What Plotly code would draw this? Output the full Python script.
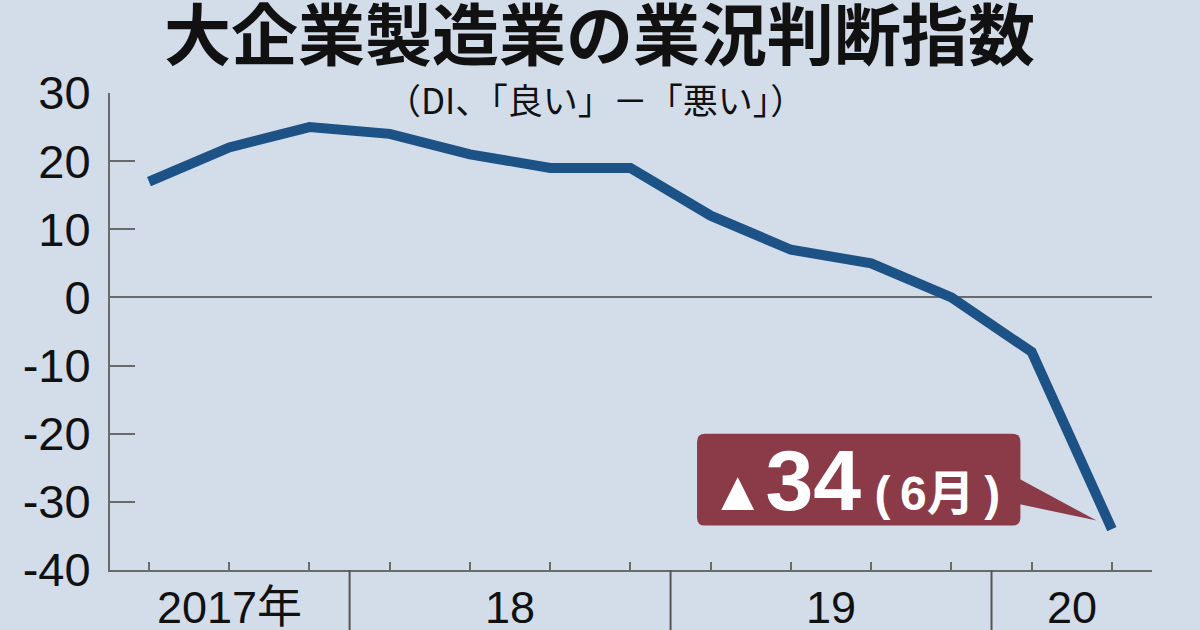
import plotly.graph_objects as go

# Data: quarterly DI, 2017 Jun .. 2020 Jun
quarters = ["2017-06", "2017-09", "2017-12", "2018-03", "2018-06", "2018-09", "2018-12",
            "2019-03", "2019-06", "2019-09", "2019-12", "2020-03", "2020-06"]
di_values = [17, 22, 25, 24, 21, 19, 19, 12, 7, 5, 0, -8, -34]
year_labels = ["2017年", "18", "19", "20"]
year_label_pos = [1, 4.5, 8.5, 11.5]
year_separators = [2.5, 6.5, 10.5]
y_ticks = [30, 20, 10, 0, -10, -20, -30, -40]

BG = "#d3ddea"
LINE = "#1d5287"
AXIS = "#6a6a6a"
CALLOUT = "#8b3b48"
NUM_FONT = "Liberation Sans Narrow, Liberation Sans, Noto Sans CJK JP"

xi = list(range(len(quarters)))

fig = go.Figure()
fig.add_trace(go.Scatter(
    x=xi, y=di_values, mode="lines",
    line=dict(color=LINE, width=10),
    hoverinfo="skip", showlegend=False,
))

# callout box and pointer, positioned relative to the last point
lx, ly = xi[-1], di_values[-1]
bx0, bx1 = lx - 5.17, lx - 1.14
by0, by1 = ly + 0.52, ly + 14.0
rx, ry = 0.1, 1.2
box_path = (f"M {bx0+rx},{by1} L {bx1-rx},{by1} Q {bx1},{by1} {bx1},{by1-ry} "
            f"L {bx1},{by0+ry} Q {bx1},{by0} {bx1-rx},{by0} "
            f"L {bx0+rx},{by0} Q {bx0},{by0} {bx0},{by0+ry} "
            f"L {bx0},{by1-ry} Q {bx0},{by1} {bx0+rx},{by1} Z")
tri_path = (f"M {bx1-0.05},{ly+7.6} L {lx-0.19},{ly+1.25} L {bx1-0.05},{ly+3.75} Z")

shapes = [
    dict(type="path", path=box_path, xref="x", yref="y", fillcolor=CALLOUT, line=dict(width=0), layer="above"),
    dict(type="path", path=tri_path, xref="x", yref="y", fillcolor=CALLOUT, line=dict(width=0), layer="above"),
]
for s in year_separators:
    shapes.append(dict(type="line", xref="x", yref="paper", x0=s, x1=s, y0=0, y1=-0.15,
                       line=dict(color="#555555", width=2)))

annotations = [
    dict(text="<b>大企業製造業の業況判断指数</b>", xref="paper", yref="paper",
         x=0.5, y=1, xanchor="center", yanchor="middle", showarrow=False,
         font=dict(family="Noto Sans CJK JP", size=67, color="#111111"),
         xshift=-32, yshift=63),
    dict(text="（DI、「良い」－「悪い」）", xref="paper", yref="paper",
         x=0.5, y=1, xanchor="center", yanchor="middle", showarrow=False,
         font=dict(family="Noto Sans CJK JP", size=35, color="#111111"),
         xshift=-36, yshift=-5),
    dict(text=("<b><span style='font-size:56px'>▲</span>"
               "<span style='font-size:86px'>34</span>"
               "<span style='font-size:48px'> (\u20096月\u2009)</span></b>"),
         xref="x", yref="y", x=(bx0 + bx1) / 2, y=(by0 + by1) / 2,
         xanchor="center", yanchor="middle", showarrow=False, xshift=-4,
         font=dict(family="Liberation Sans, Noto Sans CJK JP", size=48, color="white")),
]
for lab, pos in zip(year_labels, year_label_pos):
    annotations.append(dict(text=lab, xref="x", yref="paper", x=pos, y=0,
                            xanchor="center", yanchor="middle", yshift=-37, showarrow=False,
                            font=dict(family=NUM_FONT, size=45, color="#111111")))

fig.update_layout(
    width=1200, height=630,
    paper_bgcolor=BG, plot_bgcolor=BG,
    margin=dict(l=110, r=48, t=93, b=60),
    shapes=shapes, annotations=annotations,
    xaxis=dict(range=[-0.486, 12.5], showgrid=False, zeroline=False,
               showline=True, linecolor=AXIS, linewidth=2,
               tickvals=xi, ticks="inside", ticklen=8, tickwidth=1.5, tickcolor=AXIS,
               showticklabels=False, fixedrange=True),
    yaxis=dict(range=[-40, 30], showgrid=False, zeroline=True, zerolinecolor=AXIS, zerolinewidth=2,
               showline=True, linecolor=AXIS, linewidth=2,
               tickvals=y_ticks, ticktext=[str(v) for v in y_ticks],
               ticks="inside", ticklen=25, tickwidth=2, tickcolor=AXIS,
               ticklabelstandoff=8,
               tickfont=dict(family=NUM_FONT, size=47, color="#111111"), fixedrange=True),
)

fig.write_html("out.html", config={"displayModeBar": False},
               post_script="document.body.style.margin='0';document.body.style.overflow='hidden';")
